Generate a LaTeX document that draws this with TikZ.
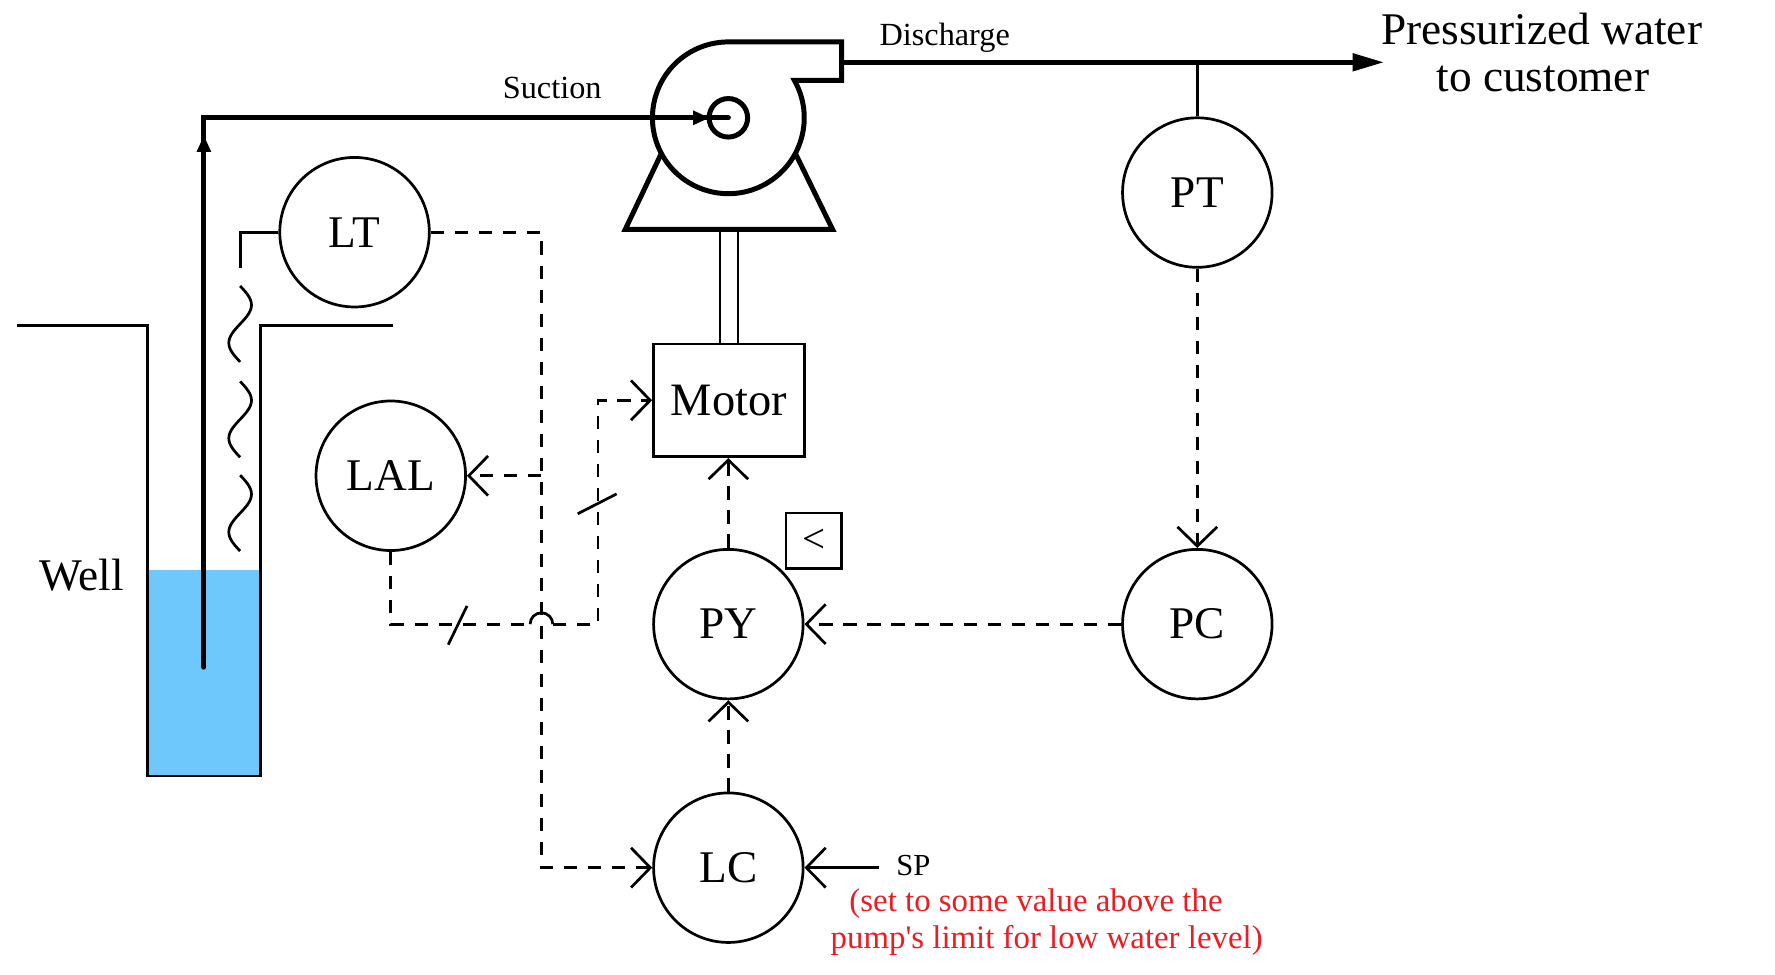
\documentclass[tikz,border=0pt]{standalone}
\usepackage{fontspec}
\setmainfont{Liberation Serif}
\usetikzlibrary{arrows.meta}
\definecolor{waterblue}{RGB}{110,200,252}
\definecolor{notered}{RGB}{235,28,36}
\begin{document}
\begin{tikzpicture}[x=0.5pt,y=0.5pt,
  thinline/.style={line width=1.2pt},
  wellline/.style={line width=1.25pt},
  pipe/.style={line width=2.2pt},
  sig/.style={line width=1.2pt,dash pattern=on 6pt off 4.6pt},
  barb/.style={-{Straight Barb[length=8.5pt,width=17.5pt]}},
  inst/.style={circle,draw,line width=1.2pt,minimum size=66pt,inner sep=0pt,font=\fontsize{20}{24}\selectfont},
  bigtext/.style={font=\fontsize{20}{24}\selectfont,inner sep=0pt},
  smalltext/.style={font=\fontsize{14.25}{17}\selectfont,inner sep=0pt},
  notetext/.style={font=\fontsize{14.5}{17}\selectfont,text=notered,inner sep=0pt}]
\useasboundingbox (0,0) rectangle (1567,-860.7);

% ---------- well ----------
\fill[waterblue] (130,-503) rectangle (230,-685);
\draw[wellline] (15,-287) -- (130,-287) -- (130,-685) -- (230,-685) -- (230,-287) -- (347,-287);
\node[bigtext,anchor=base] (well) at (72,-521) {Well};

% ---------- pump ----------
\coordinate (pc) at (643,-104);
\draw[pipe] (743,-71) -- (701.3,-71) arc[start angle=29.5,end angle=-270,radius=67] -- (743,-37) -- cycle;
\draw[pipe] (pc) circle[radius=17];
\draw[pipe,line join=miter] (583.8,-135.5) -- (552,-202.5) -- (735,-202.5) -- (702.2,-135.5);

% ---------- suction pipe ----------
\coordinate (pipebot) at (180,-589);
\coordinate (corner) at (180,-104);
\draw[pipe,line cap=round] (pipebot) -- (corner) -- (pc);
\fill (180,-120) -- (173.5,-134) -- (186.5,-134) -- cycle;
\fill (626,-104) -- (612,-97.5) -- (612,-110.5) -- cycle;
\node[smalltext,anchor=base] (suction) at (487.5,-87) {Suction};

% ---------- discharge ----------
\coordinate (outlet) at (743,-55);
\coordinate (dischend) at (1222,-55);
\draw[pipe,-{Triangle[length=14pt,width=7.5pt]}] (outlet) -- (dischend);
\node[smalltext,anchor=base] (discharge) at (834,-40) {Discharge};
\node[bigtext,anchor=base] (press1) at (1361,-39.5) {Pressurized water};
\node[bigtext,anchor=base] (press2) at (1362,-80.5) {to customer};

% ---------- motor ----------
\node[draw,thinline,minimum width=66.6pt,minimum height=49.8pt,inner sep=0pt,font=\fontsize{20.5}{24}\selectfont] (motor) at (643.5,-353.4) {Motor};
\draw[thinline] (635.5,-202.5) -- (635.5,-303.5);
\draw[thinline] (651.5,-202.5) -- (651.5,-303.5);

% ---------- instruments ----------
\node[inst] (LT) at (313,-205) {LT};
\node[inst] (LAL) at (345,-420) {LAL};
\node[inst] (PY) at (643,-551) {PY};
\node[inst] (LC) at (643,-766) {LC};
\node[inst] (PC) at (1057,-551) {PC};
\node[inst] (PT) at (1057,-170) {PT};
\node[draw,thinline,minimum size=24.5pt,inner sep=0pt,font=\fontsize{18}{18}\selectfont] (cmp) at (718.5,-477.5) {<};

% ---------- level sensor ----------
\coordinate (ltbend) at (212,-205);
\coordinate (ltdown) at (212,-237);
\draw[thinline] (LT.west) -- (ltbend) -- (ltdown);
\foreach \s in {252.5,336.7,419.5}{
  \draw[thinline] plot[domain=0:1,samples=41,smooth,variable=\t] ({212+10*sin(360*\t)},{-\s-67*\t});
}

% ---------- signal lines ----------
\coordinate (ltr) at (478,-205);
\coordinate (lcl) at (478,-766);
\coordinate (laltap) at (478,-420);
\draw[sig,barb] (LT.east) -- (ltr) -- (lcl) -- (LC.west);
\draw[sig,barb] (laltap) -- (LAL.east);

\coordinate (lalb) at (345,-551);
\coordinate (hopl) at (468,-551);
\coordinate (hopr) at (488,-551);
\coordinate (mr) at (528,-551);
\coordinate (mt) at (528,-353.4);
\draw[sig] (LAL.south) -- (lalb) -- (hopl);
\draw[thinline] (hopl) arc[start angle=180,end angle=0,radius=10];
\draw[sig,barb] (hopr) -- (mr) -- (mt) -- (motor.west);
\draw[thinline] (395.7,-569.1) -- (412.3,-534.9);
\draw[thinline] (510,-453.6) -- (544.4,-436);

\draw[sig,barb] (PY.north) -- (PY.north |- motor.south);
\draw[sig,barb] (LC.north) -- (PY.south);
\draw[sig,barb] (PC.west) -- (PY.east);
\draw[sig,barb] (PT.south) -- (PC.north);
\coordinate (pttap) at (1057,-55);
\draw[thinline] (PT.north) -- (pttap);

% ---------- setpoint ----------
\coordinate (spend) at (776,-766);
\draw[thinline,barb] (spend) -- (LC.east);
\node[font=\fontsize{13.5}{16}\selectfont,inner sep=0pt,anchor=base west] (sp) at (791,-773) {SP};
\node[notetext,anchor=base] (note1) at (914.6,-805) {(set to some value above the};
\node[notetext,anchor=base] (note2) at (924,-837) {pump\textquotesingle s limit for low water level)};
\end{tikzpicture}
\end{document}
